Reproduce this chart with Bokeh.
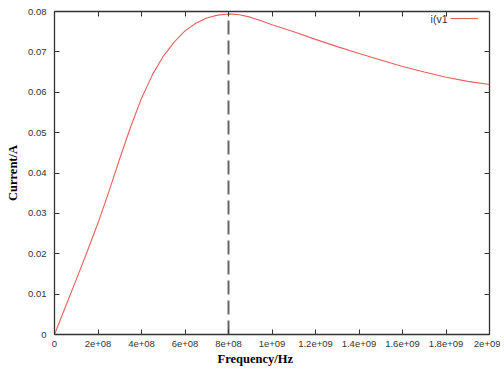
from bokeh.plotting import figure
from bokeh.models import (Range1d, FixedTicker, LinearAxis, Legend, LegendItem,
                          Label, Title, ColumnDataSource)
from bokeh.core.properties import value
from bokeh.embed import file_html
from bokeh.resources import INLINE

# ---- data ----
frequency_hz = [0, 0.5e8, 1.0e8, 1.5e8, 2.0e8, 2.5e8, 3.0e8, 3.5e8, 4.0e8, 4.5e8,
                5.0e8, 5.5e8, 6.0e8, 6.5e8, 7.0e8, 7.5e8, 8.0e8, 8.5e8, 9.0e8,
                9.5e8, 1.0e9, 1.1e9, 1.2e9, 1.3e9, 1.4e9, 1.5e9, 1.6e9, 1.7e9,
                1.8e9, 1.9e9, 2.0e9]
current_a = [0.0, 0.0068, 0.0136, 0.0205, 0.0276, 0.0354, 0.0436, 0.0514, 0.0585,
             0.0643, 0.0689, 0.0724, 0.0752, 0.0771, 0.0784, 0.0791, 0.0794,
             0.0792, 0.0786, 0.0777, 0.0767, 0.0750, 0.0731, 0.0713, 0.0696,
             0.0680, 0.0664, 0.0650, 0.0637, 0.0627, 0.0619]
series_name = "i(v1"

x_ticks = [0, 2e8, 4e8, 6e8, 8e8, 1.0e9, 1.2e9, 1.4e9, 1.6e9, 1.8e9, 2.0e9]
x_tick_labels = ["0", "2e+08", "4e+08", "6e+08", "8e+08", "1e+09", "1.2e+09",
                 "1.4e+09", "1.6e+09", "1.8e+09", "2e+09"]
y_ticks = [0, 0.01, 0.02, 0.03, 0.04, 0.05, 0.06, 0.07, 0.08]
y_tick_labels = ["0", "0.01", "0.02", "0.03", "0.04", "0.05", "0.06", "0.07", "0.08"]

x_title = "Frequency/Hz"
y_title = "Current/A"

# ---- figure ----
p = figure(width=500, height=368, output_backend="svg", toolbar_location=None,
           x_range=Range1d(x_ticks[0], x_ticks[-1]),
           y_range=Range1d(y_ticks[0], y_ticks[-1]),
           min_border_left=54, min_border_right=11, min_border_top=11,
           min_border_bottom=34)
p.background_fill_color = "white"
p.border_fill_color = "white"
p.outline_line_color = "#333333"
p.outline_line_width = 1.3
p.xgrid.visible = False
p.ygrid.visible = False

TICK_FONT = "Liberation Sans"
TITLE_FONT = "Liberation Serif"


def style_axis(ax, ticks, labels, show_labels=True):
    ax.ticker = FixedTicker(ticks=ticks)
    ax.major_label_overrides = {t: l for t, l in zip(ticks, labels)}
    ax.axis_line_color = None
    ax.major_tick_in = 5
    ax.major_tick_out = 0
    ax.major_tick_line_color = "#333333"
    ax.major_tick_line_width = 1
    ax.minor_tick_line_color = None
    ax.major_label_text_font = TICK_FONT
    ax.major_label_text_font_size = "9.5px"
    ax.major_label_text_color = "#333333"
    if not show_labels:
        ax.major_label_text_color = None
        ax.major_label_text_font_size = "1px"
        ax.major_label_standoff = 0


xa = p.xaxis[0]
ya = p.yaxis[0]
style_axis(xa, x_ticks, x_tick_labels)
style_axis(ya, y_ticks, y_tick_labels)
xa.major_label_standoff = 6
ya.major_label_standoff = 8
ya.axis_label = y_title
ya.axis_label_text_font = TITLE_FONT
ya.axis_label_text_font_style = "bold"
ya.axis_label_text_font_size = "12.5px"
ya.axis_label_text_color = "#000000"
ya.axis_label_standoff = 5

top_axis = LinearAxis()
style_axis(top_axis, x_ticks, x_tick_labels, show_labels=False)
p.add_layout(top_axis, "above")
right_axis = LinearAxis()
style_axis(right_axis, y_ticks, y_tick_labels, show_labels=False)
p.add_layout(right_axis, "right")

# x title (gnuplot places it slightly left of the frame centre)
p.add_layout(Title(text=x_title, align="left", offset=163, standoff=1,
                   text_font=TITLE_FONT, text_font_style="bold",
                   text_font_size="12.5px", text_color="#000000"), "below")

# ---- data marks ----
src = ColumnDataSource(dict(f=frequency_hz, i=current_a))
curve = p.line("f", "i", source=src, line_color="#e8605f", line_width=1.1)

peak_idx = current_a.index(max(current_a))
peak_src = ColumnDataSource(dict(x0=[frequency_hz[peak_idx]], y0=[0],
                                 x1=[frequency_hz[peak_idx]], y1=[current_a[peak_idx]]))
p.segment("x0", "y0", "x1", "y1", source=peak_src, line_color="#666666",
          line_width=2, line_dash="14 6")

# ---- legend (gnuplot style: text left, sample right) ----
legend = Legend(items=[LegendItem(label=value(""), renderers=[curve])],
                location="top_right", margin=0, padding=0, spacing=0,
                glyph_width=28, glyph_height=14, label_width=0,
                label_standoff=11, label_text_font_size="1px",
                border_line_color=None, background_fill_alpha=0)
p.add_layout(legend, "center")
p.add_layout(Label(x=393, y=316, x_units="screen", y_units="screen",
                   text=series_name, text_align="right", text_baseline="middle",
                   text_font=TICK_FONT, text_font_size="10.5px",
                   text_color="#333333"))

open("out.html", "w").write(file_html(p, INLINE))
